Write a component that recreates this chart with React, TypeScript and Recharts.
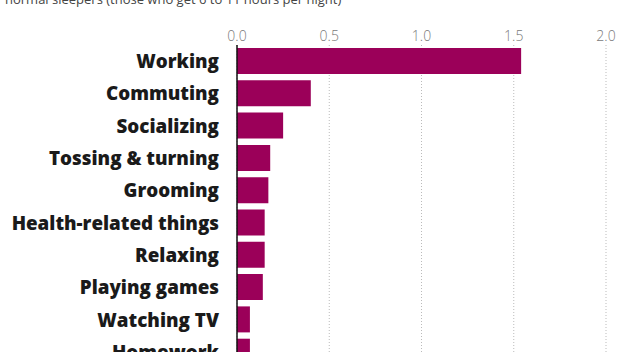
import React from 'react'
import { BarChart, Bar, XAxis, YAxis, CartesianGrid } from 'recharts'

const activities = [
  'Working',
  'Commuting',
  'Socializing',
  'Tossing & turning',
  'Grooming',
  'Health-related things',
  'Relaxing',
  'Playing games',
  'Watching TV',
  'Homework'
]

// extra hours per night compared with normal sleepers
const hours = [1.54, 0.4, 0.25, 0.18, 0.17, 0.15, 0.15, 0.14, 0.07, 0.07]

const xTicks = [0, 0.5, 1, 1.5, 2]

const data = activities.map((name, i) => ({ name, value: hours[i] }))

const BAR_COLOR = '#9b0059'

function CategoryTick(props: any) {
  const { x, y, payload } = props
  return (
    <text
      x={x - 10}
      y={y}
      dy={7}
      textAnchor="end"
      fill="#1a1a1a"
      fontFamily="'Open Sans', sans-serif"
      fontWeight={800}
      fontSize={18.8}
    >
      {payload.value}
    </text>
  )
}

function ValueTick(props: any) {
  const { x, payload } = props
  return (
    <text
      x={x}
      y={41}
      textAnchor="middle"
      fill="#7a7a7a"
      fontFamily="'Open Sans', sans-serif"
      fontWeight={300}
      fontSize={14}
    >
      {payload.value.toFixed(1)}
    </text>
  )
}

export default function App() {
  return (
    <div
      style={{
        position: 'fixed',
        left: 0,
        top: 0,
        width: 622,
        height: 352,
        overflow: 'hidden',
        background: '#fff'
      }}
    >
      <div
        style={{
          position: 'absolute',
          left: 5,
          top: -10,
          fontFamily: "'Open Sans', sans-serif",
          fontSize: 13,
          color: '#444',
          whiteSpace: 'nowrap'
        }}
      >
        normal sleepers (those who get 6 to 11 hours per night)
      </div>
      <BarChart
        width={622}
        height={372}
        data={data}
        layout="vertical"
        margin={{ top: 0, right: 16, bottom: 4, left: 0 }}
        barCategoryGap={3}
      >
        <CartesianGrid
          horizontal={false}
          vertical
          stroke="#bbb"
          strokeDasharray="1 2"
        />
        <XAxis
          type="number"
          orientation="top"
          domain={[0, 2]}
          ticks={xTicks}
          height={45}
          axisLine={false}
          tickLine={false}
          tick={<ValueTick />}
          interval={0}
        />
        <YAxis
          type="category"
          dataKey="name"
          width={237}
          axisLine={{ stroke: '#111', strokeWidth: 1.5 }}
          tickLine={false}
          tick={<CategoryTick />}
          interval={0}
        />
        <Bar dataKey="value" fill={BAR_COLOR} isAnimationActive={false} />
      </BarChart>
    </div>
  )
}
